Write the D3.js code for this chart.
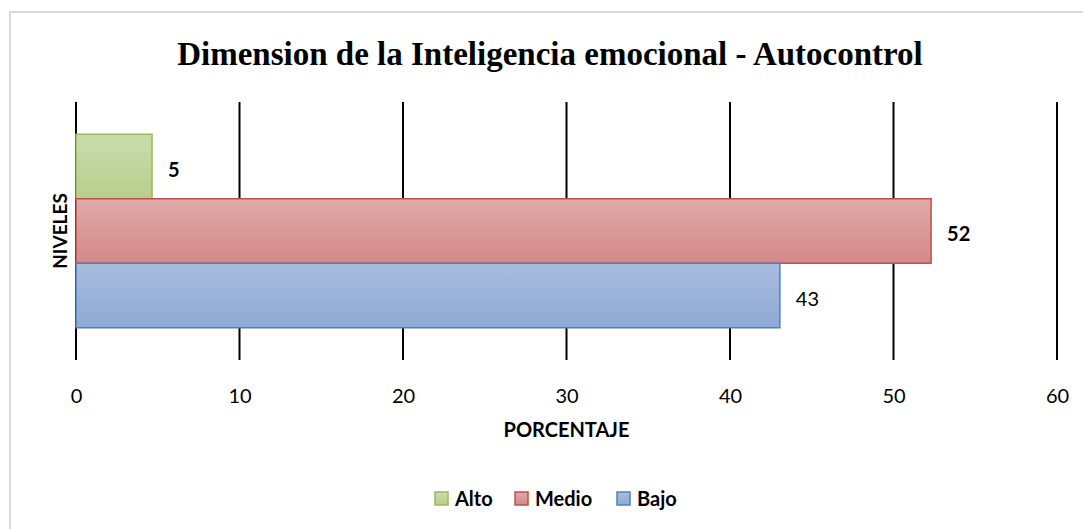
<!DOCTYPE html>
<html>
<head>
<meta charset="utf-8">
<script src="https://cdn.jsdelivr.net/npm/d3@7"></script>
<style>
  body { margin: 0; background: #fff; }
  svg { display: block; }
</style>
</head>
<body>
<div id="chart"></div>
<script>
// data
var niveles = ["Alto", "Medio", "Bajo"];
var valores = [4.65, 52.3, 43.05];
var etiquetas = ["5", "52", "43"];
var etiquetaNegrita = [true, true, false];
var ticks = [0, 10, 20, 30, 40, 50, 60];

var colores = {
  Alto:  {top: "#cadcae", bottom: "#b7ce8c", line: "#9bbb59"},
  Medio: {top: "#dfaaa9", bottom: "#d48988", line: "#c0504d"},
  Bajo:  {top: "#a9bcdd", bottom: "#8eaad6", line: "#4f81bd"}
};

var sans = "Lato, 'Open Sans', sans-serif";

var W = 1083, H = 529;
var svg = d3.select("#chart").append("svg")
  .attr("width", W)
  .attr("height", H);

// frame
svg.append("rect")
  .attr("x", 10).attr("y", 12)
  .attr("width", W + 20).attr("height", H + 20)
  .attr("fill", "#fff")
  .attr("stroke", "#d9d9d9")
  .attr("stroke-width", 2);

var defs = svg.append("defs");
niveles.forEach(function(n) {
  var g = defs.append("linearGradient")
    .attr("id", "grad-" + n)
    .attr("x1", 0).attr("y1", 0).attr("x2", 0).attr("y2", 1);
  g.append("stop").attr("offset", "0%").attr("stop-color", colores[n].top);
  g.append("stop").attr("offset", "100%").attr("stop-color", colores[n].bottom);
});

// title
svg.append("text")
  .attr("x", 550).attr("y", 65)
  .attr("text-anchor", "middle")
  .style("font-family", "'Liberation Serif', 'Times New Roman', serif")
  .style("font-weight", "bold")
  .style("font-size", "33px")
  .text("Dimension de la Inteligencia emocional - Autocontrol");

var x = d3.scaleLinear()
  .domain([0, 60])
  .range([76, 1057]);

var y = d3.scaleBand()
  .domain(niveles)
  .range([102, 360])
  .paddingInner(0)
  .paddingOuter(0.5);

// vertical gridlines
svg.append("g")
  .selectAll("line")
  .data(ticks)
  .enter()
  .append("line")
  .attr("x1", function(d) { return x(d); })
  .attr("x2", function(d) { return x(d); })
  .attr("y1", 102).attr("y2", 360)
  .attr("stroke", "#000")
  .attr("stroke-width", 2);

// x axis labels
var xAxis = svg.append("g")
  .attr("transform", "translate(0,360)")
  .call(d3.axisBottom(x).tickValues(ticks).tickSize(0).tickPadding(29));
xAxis.select(".domain").remove();
xAxis.selectAll("text")
  .attr("fill", "#000")
  .style("font-family", sans)
  .style("font-size", "20px");

// bars
svg.append("g")
  .selectAll("rect")
  .data(niveles)
  .enter()
  .append("rect")
  .attr("x", x(0))
  .attr("y", function(d) { return y(d); })
  .attr("width", function(d, i) { return x(valores[i]) - x(0); })
  .attr("height", y.bandwidth())
  .attr("fill", function(d) { return "url(#grad-" + d + ")"; })
  .attr("stroke", function(d) { return colores[d].line; })
  .attr("stroke-width", 1.5);

// value labels
svg.append("g")
  .selectAll("text")
  .data(niveles)
  .enter()
  .append("text")
  .attr("x", function(d, i) { return x(valores[i]) + 16; })
  .attr("y", function(d) { return y(d) + y.bandwidth() / 2 + 3; })
  .attr("dy", "0.35em")
  .style("font-family", sans)
  .style("font-size", "20px")
  .style("font-weight", function(d, i) { return etiquetaNegrita[i] ? "bold" : "normal"; })
  .text(function(d, i) { return etiquetas[i]; });

// axis titles
svg.append("text")
  .attr("x", (x(0) + x(60)) / 2).attr("y", 437)
  .attr("text-anchor", "middle")
  .style("font-family", sans)
  .style("font-weight", "bold")
  .style("font-size", "20px")
  .text("PORCENTAJE");

svg.append("text")
  .attr("transform", "translate(67,231) rotate(-90)")
  .attr("text-anchor", "middle")
  .style("font-family", sans)
  .style("font-weight", "bold")
  .style("font-size", "19px")
  .text("NIVELES");

// legend
var legendX = [435, 515, 617];
var legend = svg.append("g")
  .selectAll("g")
  .data(niveles)
  .enter()
  .append("g")
  .attr("transform", function(d, i) { return "translate(" + legendX[i] + ",492)"; });
legend.append("rect")
  .attr("width", 13).attr("height", 13)
  .attr("fill", function(d) { return "url(#grad-" + d + ")"; })
  .attr("stroke", function(d) { return colores[d].line; })
  .attr("stroke-width", 1.5);
legend.append("text")
  .attr("x", 20).attr("y", 7)
  .attr("dy", "0.36em")
  .style("font-family", sans)
  .style("font-weight", "bold")
  .style("font-size", "20px")
  .text(function(d) { return d; });
</script>
</body>
</html>
